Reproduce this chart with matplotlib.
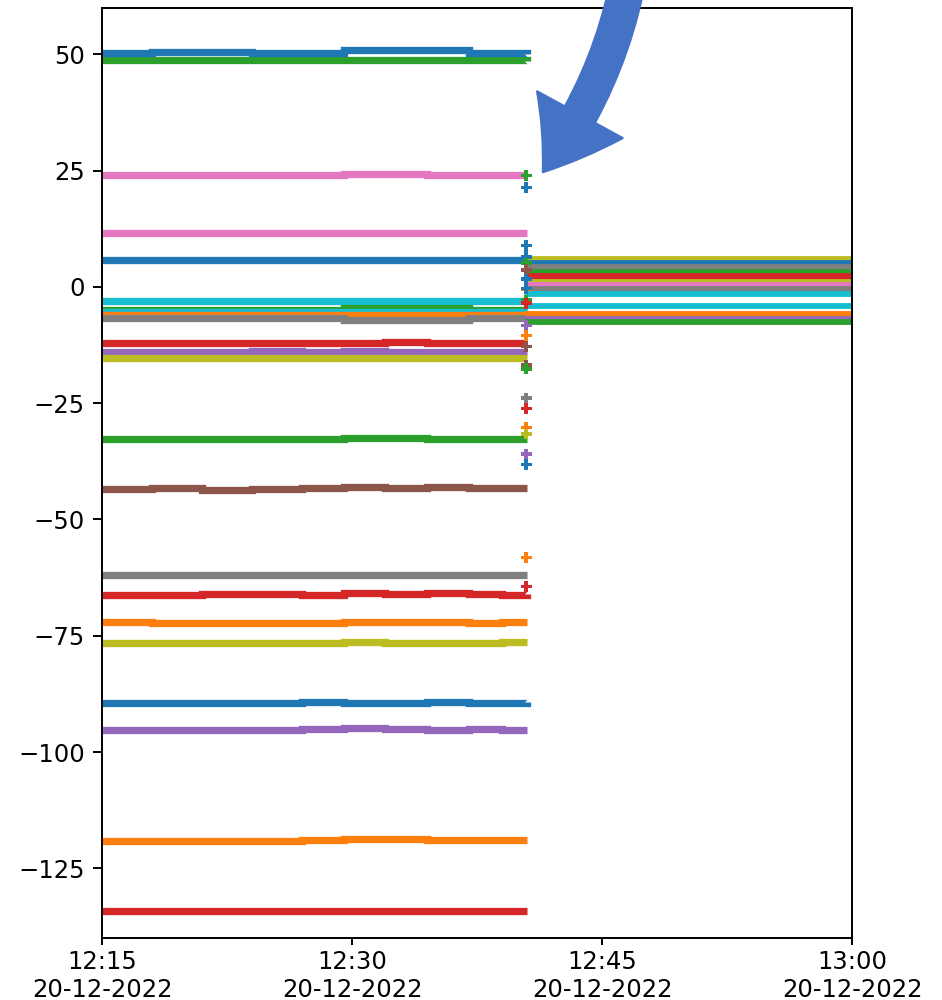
import datetime as dt
import matplotlib
matplotlib.use("Agg")
import matplotlib.pyplot as plt
import matplotlib.dates as mdates
from matplotlib.patches import FancyArrowPatch

DAY = dt.datetime(2022, 12, 20, 12, 15)

# step break times (minutes after 12:15) for the first block of readings
t_pre = [0, 3, 6, 9, 12, 14.5, 17, 19.5, 22, 24, 25.5]

# (colour, values at t_pre)
pre_series = [
    ("tab:green",  [48.9, 48.9, 48.9, 48.9, 48.9, 48.9, 48.9, 48.9, 48.9, 48.9, 48.6]),
    ("tab:blue",   [50.3, 50.5, 50.5, 50.3, 50.3, 51.0, 50.9, 51.0, 50.3, 50.4, 50.2]),
    ("tab:pink",   [24.0, 24.0, 24.1, 24.0, 24.0, 24.3, 24.3, 24.1, 24.1, 24.0, 24.0]),
    ("tab:pink",   [11.6, 11.6, 11.6, 11.6, 11.6, 11.6, 11.6, 11.6, 11.6, 11.6, 11.6]),
    ("tab:blue",   [5.8, 5.8, 5.8, 5.8, 5.8, 5.8, 5.8, 5.8, 5.8, 5.8, 5.8]),
    ("tab:cyan",   [-3.0, -3.0, -3.0, -3.0, -3.0, -3.0, -3.0, -3.0, -3.0, -3.0, -3.0]),
    ("tab:green",  [-5.0, -5.0, -5.0, -5.0, -5.0, -4.6, -4.6, -4.6, -5.0, -5.0, -5.0]),
    ("tab:cyan",   [-5.3, -5.3, -5.3, -5.3, -5.3, -5.3, -5.3, -5.3, -5.3, -5.3, -5.3]),
    ("tab:orange", [-6.1, -6.1, -6.1, -6.1, -6.1, -6.1, -6.1, -6.1, -6.1, -6.1, -6.1]),
    ("tab:gray",   [-6.7, -6.7, -6.7, -6.7, -6.7, -7.0, -7.0, -7.0, -6.7, -6.7, -6.7]),
    ("tab:red",    [-12.1, -12.1, -12.1, -12.1, -12.1, -12.1, -11.9, -12.1, -12.1, -12.1, -12.1]),
    ("tab:purple", [-13.9, -13.9, -13.9, -13.7, -13.9, -13.7, -13.9, -13.9, -13.9, -13.9, -13.9]),
    ("tab:olive",  [-15.3, -15.3, -15.3, -15.3, -15.3, -15.3, -15.3, -15.3, -15.3, -15.3, -15.3]),
    ("tab:green",  [-32.6, -32.6, -32.6, -32.6, -32.6, -32.4, -32.4, -32.6, -32.6, -32.6, -32.6]),
    ("tab:brown",  [-43.4, -43.3, -43.6, -43.5, -43.2, -43.0, -43.2, -43.1, -43.3, -43.2, -43.2]),
    ("tab:gray",   [-61.9, -61.9, -61.9, -61.9, -61.9, -61.9, -61.9, -61.9, -61.9, -61.9, -61.9]),
    ("tab:red",    [-66.2, -66.2, -66.0, -66.0, -66.2, -65.9, -66.0, -65.9, -66.0, -66.3, -66.1]),
    ("tab:orange", [-72.1, -72.3, -72.3, -72.2, -72.2, -72.0, -72.1, -72.1, -72.2, -72.1, -72.1]),
    ("tab:olive",  [-76.6, -76.6, -76.5, -76.6, -76.5, -76.4, -76.5, -76.5, -76.5, -76.4, -76.4]),
    ("tab:blue",   [-89.5, -89.5, -89.5, -89.5, -89.2, -89.5, -89.5, -89.2, -89.5, -89.5, -89.3]),
    ("tab:purple", [-95.3, -95.3, -95.3, -95.3, -95.0, -94.9, -95.0, -95.2, -95.1, -95.2, -95.2]),
    ("tab:orange", [-119.1, -119.1, -119.1, -119.1, -119.0, -118.8, -118.8, -118.9, -119.0, -119.0, -119.0]),
    ("tab:red",    [-134.1, -134.1, -134.1, -134.1, -134.1, -134.1, -134.1, -134.1, -134.1, -134.1, -134.1]),
]

# isolated readings during the switch-over (~12:40:30)
t_jump = 25.45
jump_colors = ["tab:green", "tab:blue", "tab:blue", "tab:blue", "tab:green", "tab:brown",
               "tab:blue", "tab:orange", "tab:blue", "tab:green", "tab:red", "tab:purple",
               "tab:orange", "tab:brown", "tab:brown", "tab:green", "tab:gray", "tab:red",
               "tab:orange", "tab:olive", "tab:purple", "tab:blue", "tab:orange", "tab:red"]
jump_values = [24.0, 21.4, 8.9, 6.5, 5.1, 3.7, 1.7, -0.4, -0.3, -2.8, -3.5, -8.3,
               -10.4, -12.8, -16.8, -17.6, -23.9, -26.1, -30.2, -31.6, -35.9, -38.2,
               -58.2, -64.4]

# second block of readings, after the switch
t_post = [25.4, 46.0]
post_colors = ["tab:olive", "tab:blue", "tab:gray", "tab:green", "tab:red", "tab:red",
               "tab:olive", "tab:pink", "tab:gray", "tab:cyan", "tab:cyan", "tab:orange",
               "tab:purple", "tab:green"]
post_values = [6.0, 5.2, 4.4, 3.3, 2.4, 1.7, 1.1, 0.4, -0.5, -1.5, -4.1, -5.9, -6.8, -7.5]


def to_time(minutes):
    return [DAY + dt.timedelta(minutes=m) for m in minutes]


DPI = 175
fig = plt.figure(figsize=(942 / DPI, 1000 / DPI), dpi=DPI)
ax = fig.add_axes([102 / 942, 62 / 1000, 750 / 942, 930 / 1000])

for color, vals in pre_series:
    ax.plot(to_time(t_pre), vals, color=color, lw=3.0, drawstyle="steps-post",
            solid_capstyle="butt", solid_joinstyle="miter")

for color, val in zip(post_colors, post_values):
    ax.plot(to_time(t_post), [val, val], color=color, lw=2.4, solid_capstyle="butt")

ax.scatter(to_time([t_jump] * len(jump_values)), jump_values, c=jump_colors,
           marker="P", s=20, linewidths=0, zorder=3)

ax.set_xlim(DAY, DAY + dt.timedelta(minutes=45))
ax.set_ylim(-140, 60)
ax.set_yticks([50, 25, 0, -25, -50, -75, -100, -125])
ax.xaxis.set_major_locator(mdates.MinuteLocator(byminute=[0, 15, 30, 45]))
ax.xaxis.set_major_formatter(mdates.DateFormatter("%H:%M\n%d-%m-%Y"))
ax.tick_params(axis="x", length=3, pad=2)

# big annotation arrow pointing at the switch-over
arrow = FancyArrowPatch((630 / 942, 1.03), (543 / 942, 1 - 172 / 1000),
                        transform=fig.transFigure,
                        connectionstyle="arc3,rad=-0.12",
                        arrowstyle="simple,head_length=28,head_width=40,tail_width=14",
                        color="#4472C4", shrinkA=0, shrinkB=0, zorder=10)
fig.add_artist(arrow)

fig.savefig("out.png", dpi=DPI)
